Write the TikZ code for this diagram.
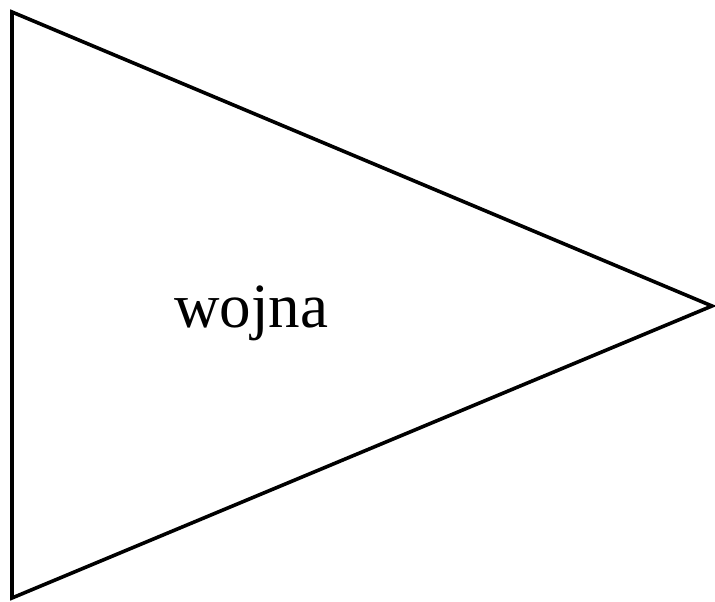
\documentclass[tikz,border=0pt]{standalone}
\usepackage{fontspec}
\setmainfont{Liberation Serif}
\begin{document}
\begin{tikzpicture}[x=1pt,y=1pt,
  tri/.style={draw=black,line width=3.6pt,line join=miter},
  lbl/.style={font=\fontsize{63}{70}\selectfont,inner sep=0pt,anchor=base}]
\useasboundingbox (0,0) rectangle (715,602);
\coordinate (A) at (12,590);
\coordinate (B) at (12,4);
\coordinate (C) at (712,296);
\draw[tri] (A) -- (C) -- (B) -- cycle;
\node[lbl] (t) at (251,274) {wojna};
\end{tikzpicture}
\end{document}
